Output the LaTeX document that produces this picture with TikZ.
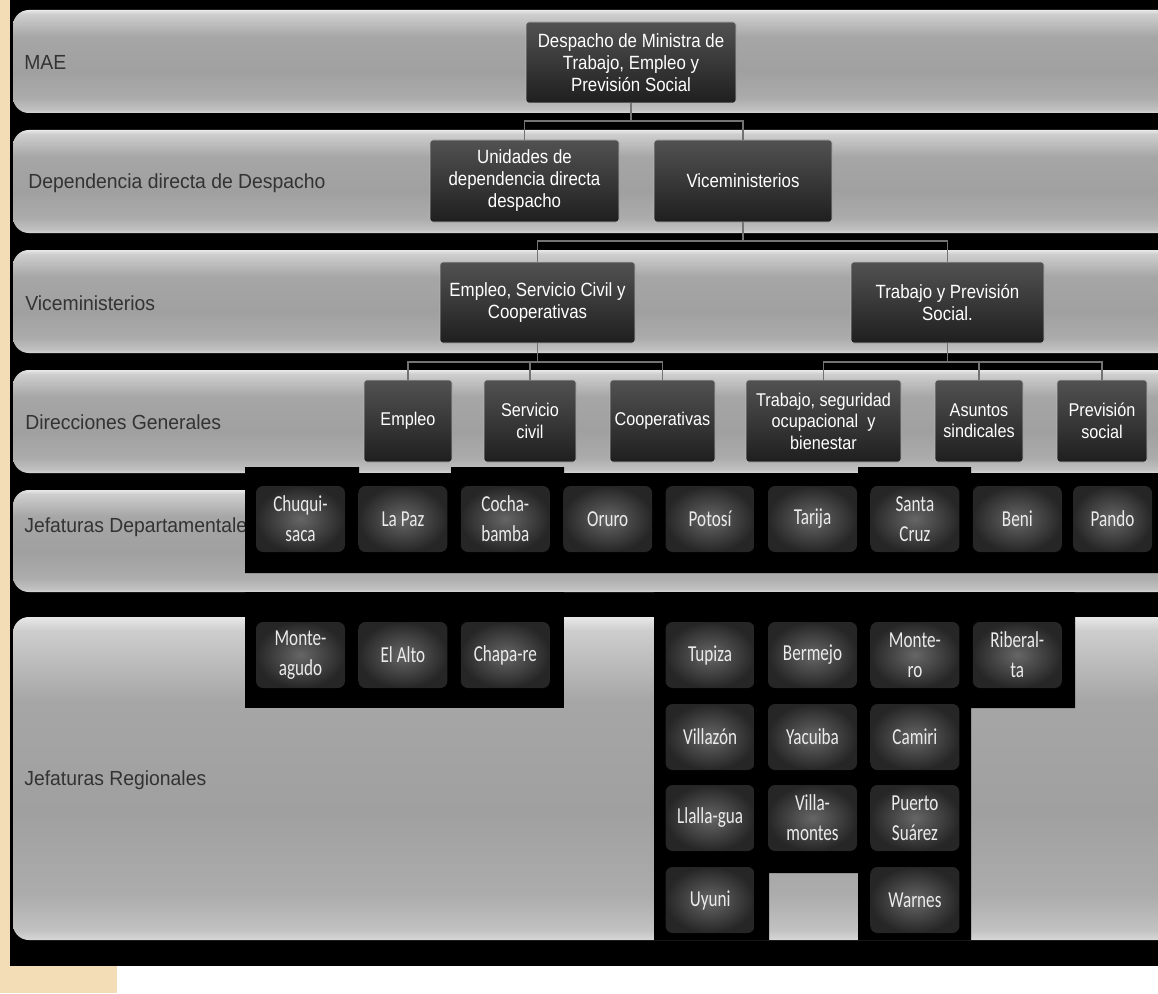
\documentclass[tikz,border=0pt]{standalone}
\usepackage{fontspec}
\newfontfamily\labfont{Liberation Sans}[FakeStretch=0.95]
\newfontfamily\boxfont{Liberation Sans}[FakeStretch=0.88]
\newfontfamily\cityfont{Carlito}[FakeStretch=0.75]
\definecolor{beige}{HTML}{F2DDB6}
\definecolor{bB}{HTML}{D8D8D8}
\definecolor{bC}{HTML}{C2C2C2}
\definecolor{bD}{HTML}{ACACAC}
\definecolor{bE}{HTML}{A0A0A0}
\definecolor{bF}{HTML}{A6A6A6}
\definecolor{bG}{HTML}{CECECE}
\definecolor{bH}{HTML}{E8E8E8}
\pgfdeclareverticalshading{bandshade}{100bp}{color(0bp)=(bB); color(25bp)=(bB); color(26.5bp)=(bC); color(32bp)=(bD); color(45bp)=(bE); color(62bp)=(bF); color(73bp)=(bG); color(75bp)=(bH); color(100bp)=(bH)}
\newcommand\mkbox[7]{\node[#1, minimum width={(#5-#3)*0.02cm}, minimum height={(#6-#4)*0.02cm}] (#2) at ({(#3+#5)/2},{(#4+#6)/2}) {#7};}
\newcommand\mkcell[4]{\node[city, minimum width={89*0.02cm}, minimum height={66*0.02cm}] (#1) at ({256+102.4*#2+44.5},{#3+33}) {#4};}
\begin{document}
\begin{tikzpicture}[x=0.02cm,y=-0.02cm,
  band/.style={shading=bandshade, rounded corners=9},
  lvl/.style={draw=black!28, line width=0.5pt, rounded corners=1.5pt, top color=black!68, bottom color=black!88, text=white, align=center, inner sep=0pt, font=\boxfont\fontsize{10.9}{12.5}\selectfont},
  dg/.style={lvl, font=\boxfont\fontsize{10.5}{12.2}\selectfont},
  city/.style={rounded corners=4pt, inner color=black!60, outer color=black!85, text=white!92!black, align=center, inner sep=0pt, font=\cityfont\fontsize{13}{17}\selectfont},
  conn/.style={draw=black!55, line width=0.8pt},
  lab/.style={anchor=west, text=black!80, inner sep=0pt, font=\labfont\fontsize{11.6}{14}\selectfont}]
\useasboundingbox (0,0) rectangle (1158,993);
\clip (0,0) rectangle (1158,993);
% background
\fill[white] (0,0) rectangle (1158,993);
\fill[beige] (0,0) rectangle (10,993);
\fill[beige] (0,966) rectangle (117,993);
\fill[black] (10,0) rectangle (1158,966);
% bands
\shade[band] (13,10) rectangle (1185,113);
\shade[band] (13,130) rectangle (1185,233);
\shade[band] (13,250) rectangle (1185,353);
\shade[band] (13,370) rectangle (1185,473);
\shade[band] (13,490) rectangle (1185,592);
\shade[band] (13,617) rectangle (1185,940);
% labels
\node[lab] (lMAE) at (24,62) {MAE};
\node[lab] (lDep) at (28,183) {Dependencia directa de Despacho};
\node[lab] (lVic) at (25,303) {Viceministerios};
\node[lab] (lDir) at (25,422) {Direcciones Generales};
\node[lab] (lJD) at (24,527) {Jefaturas Departamentales};
\node[lab] (lJR) at (24,780) {Jefaturas Regionales};
% black panels
\fill[black] (245,473) -- (245,467) -- (359,467) -- (359,473) -- (451,473) -- (451,467) -- (564,467) -- (564,473)
  -- (858,473) -- (858,467) -- (971,467) -- (971,473) -- (1160,473) -- (1160,573) -- (245,573) -- cycle;
\fill[black] (245,592) rectangle (564,708);
\fill[black] (654,592) -- (1075,592) -- (1075,708) -- (971,708) -- (971,940) -- (858,940) -- (858,873)
  -- (769,873) -- (769,940) -- (654,940) -- cycle;
% hierarchy boxes
\mkbox{lvl}{desp}{526}{22}{736}{103}{Despacho de Ministra de\\Trabajo, Empleo y\\Previsión Social}
\mkbox{lvl}{unid}{430}{140}{619}{222}{Unidades de\\dependencia directa\\despacho}
\mkbox{lvl}{vice}{654}{140}{832}{222}{Viceministerios}
\mkbox{lvl}{vesc}{440}{262}{635}{343}{Empleo, Servicio Civil y\\Cooperativas}
\mkbox{lvl}{vtps}{851}{262}{1044}{343}{Trabajo y Previsión\\Social.}
\mkbox{dg}{dEmp}{364}{380}{452}{462}{Empleo}
\mkbox{dg}{dSer}{484}{380}{576}{462}{Servicio\\civil}
\mkbox{dg}{dCoo}{610}{380}{715}{462}{Cooperativas}
\mkbox{dg}{dTra}{746}{380}{901}{462}{Trabajo, seguridad\\ocupacional\ \ y\\bienestar}
\mkbox{dg}{dAsu}{935}{380}{1023}{462}{Asuntos\\sindicales}
\mkbox{dg}{dPre}{1057}{380}{1147}{462}{Previsión\\social}
% connectors
\coordinate (bus1) at (0,121);
\coordinate (bus2) at (0,241);
\coordinate (bus3) at (0,362);
\draw[conn] (desp.south) -- (desp.south |- bus1) -| (unid.north);
\draw[conn] (desp.south |- bus1) -| (vice.north);
\draw[conn] (vice.south) -- (vice.south |- bus2) -| (vesc.north);
\draw[conn] (vice.south |- bus2) -| (vtps.north);
\draw[conn] (vesc.south) -- (vesc.south |- bus3) -| (dEmp.north);
\draw[conn] (vesc.south |- bus3) -| (dCoo.north);
\draw[conn] (dSer.north |- bus3) -- (dSer.north);
\draw[conn] (vtps.south) -- (vtps.south |- bus3) -| (dTra.north);
\draw[conn] (vtps.south |- bus3) -| (dPre.north);
\draw[conn] (dAsu.north |- bus3) -- (dAsu.north);
% departmental cells
\mkcell{chq}{0}{486}{Chuqui-\\saca}
\mkcell{lpz}{1}{486}{La Paz}
\mkcell{cbb}{2}{486}{Cocha-\\bamba}
\mkcell{oru}{3}{486}{Oruro}
\mkcell{pts}{4}{486}{Potosí}
\mkcell{tja}{5}{486}{Tarija}
\mkcell{scz}{6}{486}{Santa\\Cruz}
\mkcell{ben}{7}{486}{Beni}
\mkbox{city}{pan}{1073}{486}{1152}{552}{Pando}
% regional cells
\mkcell{mtg}{0}{622}{Monte-\\agudo}
\mkcell{alt}{1}{622}{El Alto}
\mkcell{chp}{2}{622}{Chapa-re}
\mkcell{tup}{4}{622}{Tupiza}
\mkcell{ber}{5}{622}{Bermejo}
\mkcell{mon}{6}{622}{Monte-\\ro}
\mkcell{rib}{7}{622}{Riberal-\\ta}
\mkcell{vil}{4}{704}{Villazón}
\mkcell{yac}{5}{704}{Yacuiba}
\mkcell{cam}{6}{704}{Camiri}
\mkcell{lla}{4}{785}{Llalla-gua}
\mkcell{vmo}{5}{785}{Villa-\\montes}
\mkcell{psu}{6}{785}{Puerto\\Suárez}
\mkcell{uyu}{4}{867}{Uyuni}
\mkcell{war}{6}{867}{Warnes}
\end{tikzpicture}
\end{document}
